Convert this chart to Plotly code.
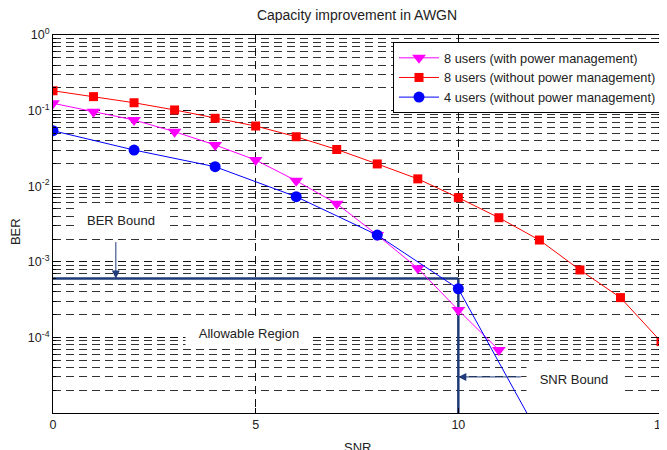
import math
import plotly.graph_objects as go

# ---- data ----
snr_8_pm = [0, 1, 2, 3, 4, 5, 6, 7, 8, 9, 10, 11]
ber_8_pm = [0.125, 0.0967, 0.0751, 0.0526, 0.0351, 0.0222, 0.0118, 0.00587,
            0.00226, 8.2e-4, 2.3e-4, 6.8e-5]

snr_8_nopm = [0, 1, 2, 3, 4, 5, 6, 7, 8, 9, 10, 11, 12, 13, 14, 15]
ber_8_nopm = [0.183, 0.153, 0.127, 0.102, 0.0791, 0.0625, 0.0451, 0.0306,
              0.0197, 0.0125, 0.00705, 0.00383, 0.00194, 7.8e-4, 3.36e-4, 8.8e-5]

snr_4_nopm = [0, 2, 4, 6, 8, 10, 12]
ber_4_nopm = [0.0542, 0.0301, 0.0181, 0.00726, 0.00226, 4.4e-4, 5.0e-6]

series_names = ["8 users (with power management)",
                "8 users (without power management)",
                "4 users (without power management)"]

x_ticks = [0, 5, 10, 15]
y_tick_vals = [1, 1e-1, 1e-2, 1e-3, 1e-4]
y_tick_text = ["10<sup>0</sup>", "10<sup>-1</sup>", "10<sup>-2</sup>",
               "10<sup>-3</sup>", "10<sup>-4</sup>"]

BER_BOUND = 6e-4
SNR_BOUND = 10
Y_MIN = 1e-5
SNR_ARROW_BER = 3e-5

NAVY = "#1f3a78"
FONT = "Liberation Sans, Arial, Helvetica, sans-serif"
TXT = "#222"

# the page body adds an 8px offset, so the figure is sized to compensate
W, H = 659, 442
ML, MR, MT, MB = 45, 6, 27, 37

fig = go.Figure()

# bound lines
fig.add_trace(go.Scatter(x=[0, SNR_BOUND], y=[BER_BOUND, BER_BOUND], mode="lines",
                         line=dict(color=NAVY, width=2.5), showlegend=False,
                         hoverinfo="skip"))
fig.add_trace(go.Scatter(x=[SNR_BOUND, SNR_BOUND], y=[BER_BOUND, Y_MIN], mode="lines",
                         line=dict(color=NAVY, width=2.5), showlegend=False,
                         hoverinfo="skip"))

fig.add_trace(go.Scatter(x=snr_8_pm, y=ber_8_pm, mode="lines+markers",
                         name=series_names[0],
                         line=dict(color="#ff00ff", width=1),
                         marker=dict(symbol="triangle-down", size=12, color="#ff00ff")))
fig.add_trace(go.Scatter(x=snr_8_nopm, y=ber_8_nopm, mode="lines+markers",
                         name=series_names[1],
                         line=dict(color="#ff0000", width=1),
                         marker=dict(symbol="square", size=9, color="#ff0000")))
fig.add_trace(go.Scatter(x=snr_4_nopm, y=ber_4_nopm, mode="lines+markers",
                         name=series_names[2],
                         line=dict(color="#0000ff", width=1),
                         marker=dict(symbol="circle", size=11, color="#0000ff")))

minor_vals = [m * 10 ** e for e in range(-5, 0) for m in range(2, 10)]

fig.update_xaxes(range=[0, 15], tickvals=x_ticks, showgrid=True, automargin=False,
                 gridcolor="#111", griddash="8px,5px", gridwidth=1,
                 showline=True, linecolor="black", linewidth=1, mirror="ticks",
                 ticks="inside", ticklen=5, tickcolor="black", zeroline=False,
                 ticklabeloverflow="allow",
                 tickfont=dict(family=FONT, size=12.5, color=TXT))
fig.update_yaxes(type="log", range=[math.log10(Y_MIN), 0], automargin=False,
                 tickvals=y_tick_vals, ticktext=y_tick_text,
                 showgrid=True, gridcolor="#111", griddash="8px,5px", gridwidth=1,
                 minor=dict(tickmode="array", tickvals=minor_vals, showgrid=True,
                            gridcolor="#333", griddash="8px,5px", gridwidth=1,
                            ticks="inside", ticklen=3, tickcolor="black"),
                 showline=True, linecolor="black", linewidth=1, mirror="ticks",
                 ticks="inside", ticklen=5, tickcolor="black", zeroline=False,
                 ticklabeloverflow="allow",
                 tickfont=dict(family=FONT, size=12.5, color=TXT))

PW = W - ML - MR
PH = H - MT - MB

annotations = [
    dict(text="BER Bound", x=1.68, y=-2.447, xref="x", yref="y", showarrow=False,
         font=dict(family=FONT, size=13, color=TXT), bgcolor="white",
         width=88, height=28),
    dict(text="", x=1.55, y=math.log10(BER_BOUND), xref="x", yref="y",
         showarrow=True, ax=0, ay=-38, arrowhead=2, arrowsize=1.6, arrowwidth=1,
         arrowcolor=NAVY),
    dict(text="Allowable Region", x=4.84, y=-3.94, xref="x", yref="y", showarrow=False,
         font=dict(family=FONT, size=13, color=TXT), bgcolor="white",
         width=124, height=28),
    dict(text="SNR Bound", x=12.85, y=math.log10(SNR_ARROW_BER) - 0.03, xref="x", yref="y",
         showarrow=False, font=dict(family=FONT, size=13, color=TXT),
         bgcolor="white", width=92, height=28),
    dict(text="", x=SNR_BOUND, y=math.log10(SNR_ARROW_BER), xref="x", yref="y",
         showarrow=True, ax=64, ay=0, arrowhead=2, arrowsize=1.6, arrowwidth=1,
         arrowcolor=NAVY),
    dict(text="SNR", x=0.5, y=-34 / PH, xref="paper", yref="paper", showarrow=False,
         yanchor="middle", font=dict(family=FONT, size=13, color=TXT)),
    dict(text="BER", x=-37.5 / PW, y=0.48, xref="paper", yref="paper", showarrow=False,
         xanchor="center", yanchor="middle",
         textangle=-90, font=dict(family=FONT, size=13, color=TXT)),
]

fig.update_layout(
    width=W, height=H,
    margin=dict(l=ML, r=MR, t=MT, b=MB, autoexpand=False),
    paper_bgcolor="white", plot_bgcolor="white",
    title=dict(text="Capacity improvement in AWGN", x=(ML + PW / 2) / W, xanchor="center",
               y=1 - 7.5 / H, yanchor="middle",
               font=dict(family=FONT, size=14, color=TXT)),
    legend=dict(x=(PW + 1) / PW, xanchor="right", y=(PH - 7) / PH, yanchor="top",
                bgcolor="white", bordercolor="black", borderwidth=1,
                font=dict(family=FONT, size=12.8, color=TXT),
                itemwidth=40, tracegroupgap=0),
    annotations=annotations,
    showlegend=True,
)

fig.write_html("out.html")
